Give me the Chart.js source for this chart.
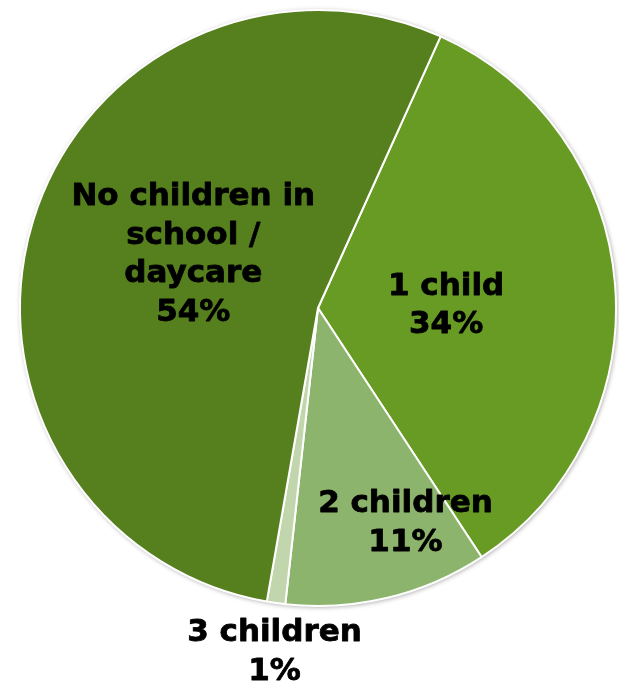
<!DOCTYPE html>
<html>
<head>
<meta charset="utf-8">
<script src="https://cdn.jsdelivr.net/npm/chart.js@4/dist/chart.umd.min.js"></script>
<style>
  html, body { margin: 0; padding: 0; background: #ffffff; }
  #wrap { width: 619px; height: 683px; position: relative; }
</style>
</head>
<body>
<div id="wrap"><canvas id="pie"></canvas></div>
<script>
// Children attending school / daycare, share of households
const categories = ['1 child', '2 children', '3 children', 'No children in school / daycare'];
const shares = [34, 11, 1, 54];
const sliceColors = ['#689B23', '#8DB46C', '#C2D6AE', '#567F1E'];
// Label text lines per slice (last line is the percentage)
const labelLines = [
  ['1 child'],
  ['2 children'],
  ['3 children'],
  ['No children in', 'school /', 'daycare']
];
// Label placement: distance as a fraction of the radius, and turn (degrees) from the slice's mid-angle
const labelRadius = [0.43, 0.78, 1.165, 0.455];
const labelTurn = [3.6, -8.6, -0.9, 6.0];

const shadowPlugin = {
  id: 'pieShadow',
  beforeDatasetsDraw(chart) {
    const arc = chart.getDatasetMeta(0).data[0];
    if (!arc) return;
    const ctx = chart.ctx;
    ctx.save();
    ctx.beginPath();
    ctx.arc(arc.x, arc.y, arc.outerRadius, 0, Math.PI * 2);
    ctx.fillStyle = '#ffffff';
    ctx.shadowColor = 'rgba(0,0,0,0.4)';
    ctx.shadowBlur = 5;
    ctx.shadowOffsetX = 1;
    ctx.shadowOffsetY = 1;
    ctx.fill();
    ctx.restore();
  }
};

const labelPlugin = {
  id: 'sliceLabels',
  afterDatasetsDraw(chart) {
    const ctx = chart.ctx;
    const meta = chart.getDatasetMeta(0);
    ctx.save();
    ctx.font = 'bold 31px "DejaVu Sans", Verdana, sans-serif';
    ctx.fillStyle = '#000000';
    ctx.strokeStyle = '#000000';
    ctx.lineWidth = 0.8;
    ctx.lineJoin = 'round';
    ctx.textAlign = 'center';
    ctx.textBaseline = 'middle';
    const lineH = 38.5;
    meta.data.forEach((arc, i) => {
      const mid = (arc.startAngle + arc.endAngle) / 2 + labelTurn[i] * Math.PI / 180;
      const r = arc.outerRadius * labelRadius[i];
      const cx = arc.x + Math.cos(mid) * r;
      const cy = arc.y + Math.sin(mid) * r;
      const lines = labelLines[i].concat([shares[i] + '%']);
      const top = cy - (lines.length - 1) * lineH / 2;
      lines.forEach((t, k) => {
        ctx.fillText(t, cx, top + k * lineH);
        ctx.strokeText(t, cx, top + k * lineH);
      });
    });
    ctx.restore();
  }
};

new Chart(document.getElementById('pie'), {
  type: 'pie',
  data: {
    labels: categories,
    datasets: [{
      data: shares,
      backgroundColor: sliceColors,
      borderColor: '#ffffff',
      borderWidth: 2
    }]
  },
  options: {
    responsive: true,
    maintainAspectRatio: false,
    animation: false,
    rotation: 24.3,
    radius: 298,
    layout: { padding: { left: 20, right: 3, top: 10, bottom: 77 } },
    plugins: {
      legend: { display: false },
      tooltip: { enabled: false }
    }
  },
  plugins: [shadowPlugin, labelPlugin]
});
</script>
</body>
</html>
